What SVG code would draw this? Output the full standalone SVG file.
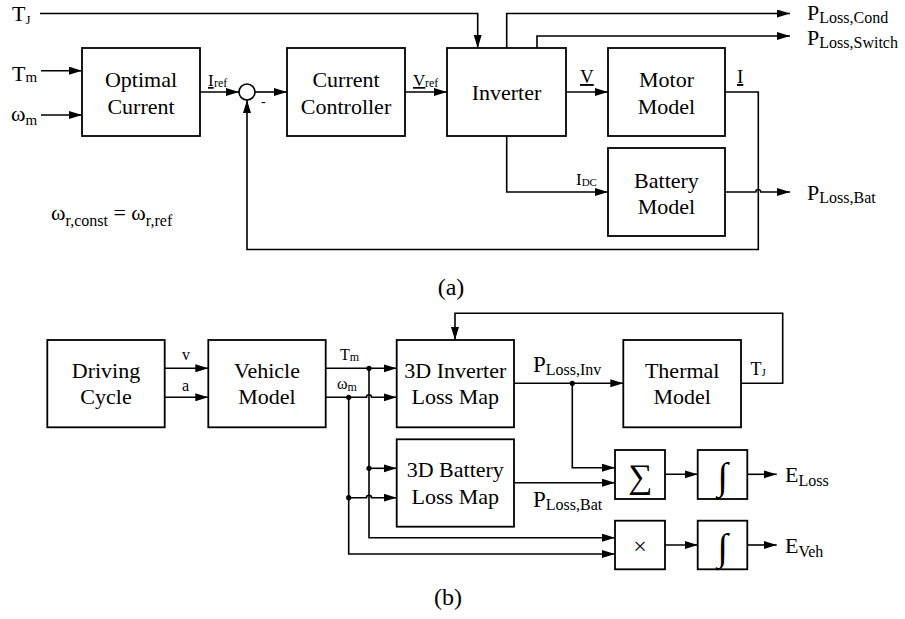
<svg xmlns="http://www.w3.org/2000/svg" width="905" height="619" viewBox="0 0 905 619" font-family="'Liberation Serif', 'Times New Roman', serif">
<style>
text{font-family:'Liberation Serif','Times New Roman',serif;fill:#000}
.b{font-family:'Liberation Serif','Times New Roman',serif;font-size:22px;text-anchor:middle}
.box{fill:#fff;stroke:#000;stroke-width:1.8}
.w{fill:none;stroke:#000;stroke-width:1.6}
.a{marker-end:url(#ah)}
.dot{fill:#000}
</style>
<defs>
<marker id="ah" markerUnits="userSpaceOnUse" markerWidth="14" markerHeight="10" refX="13" refY="4" orient="auto">
<path d="M0,0 L13,4 L0,8 z" fill="#000"/>
</marker>
</defs>

<!-- (a) nodes -->
<g id="optimal-current"><rect class="box" x="82" y="48" width="118" height="88"/><text class="b" x="141" y="87">Optimal</text><text class="b" x="141" y="113.5">Current</text></g>
<g id="sum-a"><circle cx="247" cy="92" r="8" fill="#fff" stroke="#000" stroke-width="1.6"/></g>
<g id="current-controller"><rect class="box" x="287" y="48" width="118" height="88"/><text class="b" x="346" y="87">Current</text><text class="b" x="346" y="113.5">Controller</text></g>
<g id="inverter"><rect class="box" x="447" y="48" width="119" height="88"/><text class="b" x="506.5" y="100">Inverter</text></g>
<g id="motor-model"><rect class="box" x="608" y="48" width="117" height="88"/><text class="b" x="666.5" y="87">Motor</text><text class="b" x="666.5" y="113.5">Model</text></g>
<g id="battery-model"><rect class="box" x="608" y="148" width="117" height="88"/><text class="b" x="666.5" y="187.5">Battery</text><text class="b" x="666.5" y="213.5">Model</text></g>

<!-- (b) nodes -->
<g id="driving-cycle"><rect class="box" x="47.3" y="340" width="117.4" height="87.3"/><text class="b" x="106" y="377.5">Driving</text><text class="b" x="106" y="404">Cycle</text></g>
<g id="vehicle-model"><rect class="box" x="208.3" y="340" width="117.4" height="87.3"/><text class="b" x="267" y="377.5">Vehicle</text><text class="b" x="267" y="404">Model</text></g>
<g id="inverter-loss-map"><rect class="box" x="396.7" y="340" width="117.3" height="87.3"/><text class="b" x="455.3" y="377.5">3D Inverter</text><text class="b" x="455.3" y="404">Loss Map</text></g>
<g id="battery-loss-map"><rect class="box" x="396.7" y="439.3" width="117.3" height="87.4"/><text class="b" x="455.3" y="477">3D Battery</text><text class="b" x="455.3" y="503.5">Loss Map</text></g>
<g id="thermal-model"><rect class="box" x="623.3" y="340" width="117.7" height="87.3"/><text class="b" x="682.2" y="377.5">Thermal</text><text class="b" x="682.2" y="404">Model</text></g>
<g id="sum-b"><rect class="box" x="615" y="450" width="50" height="49"/><text x="640" y="488" font-size="34" text-anchor="middle">∑</text></g>
<g id="integral-loss"><rect class="box" x="697.7" y="450" width="49.6" height="49"/><text x="722.5" y="489" font-size="38" text-anchor="middle">∫</text></g>
<g id="product"><rect class="box" x="615" y="520.7" width="50" height="48.6"/><text x="640" y="553.5" font-size="24" text-anchor="middle">×</text></g>
<g id="integral-veh"><rect class="box" x="697.7" y="520.7" width="49.6" height="48.6"/><text x="722.5" y="559.5" font-size="38" text-anchor="middle">∫</text></g>

<!-- connectors -->
<g id="connectors">
<path class="w a" d="M40,13.5 H477.7 V48"/>
<path class="w a" d="M41,70.7 H82"/>
<path class="w a" d="M41,115 H82"/>
<path class="w a" d="M200,92 H239"/>
<path class="w a" d="M255,92 H287"/>
<path class="w a" d="M405,92 H447"/>
<path class="w a" d="M566,92 H608"/>
<path class="w a" d="M725,92 H758.3 V249.5 H247 V100"/>
<path class="w a" d="M506.7,48 V13.5 H790"/>
<path class="w a" d="M537,48 V36 H790"/>
<path class="w a" d="M506.7,136 V192 H608"/>
<path class="w a" d="M725,192 H755.8 A2.5,2.5 0 0 1 760.8,192 H790"/>

<path class="w a" d="M164.7,368.3 H208.3"/>
<path class="w a" d="M164.7,397.3 H208.3"/>
<path class="w a" d="M325.7,368.3 H396.7"/>
<path class="w a" d="M325.7,397.3 H366.5 A2.5,2.5 0 0 1 371.5,397.3 H396.7"/>
<path class="w a" d="M369,368.3 V537.7 H615"/>
<path class="w a" d="M369,468.3 H396.7"/>
<path class="w a" d="M348.7,397.3 V554 H615"/>
<path class="w a" d="M348.7,497.7 H366.5 A2.5,2.5 0 0 1 371.5,497.7 H396.7"/>
<path class="w a" d="M741,383.3 H782.7 V313.3 H455 V340"/>
<path class="w a" d="M514,383.3 H623.3"/>
<path class="w a" d="M572.3,383.3 V467.7 H615"/>
<path class="w a" d="M514,482.7 H615"/>
<path class="w a" d="M665,474.3 H697.7"/>
<path class="w a" d="M747.3,474.3 H776.7"/>
<path class="w a" d="M665,545 H697.7"/>
<path class="w a" d="M747.3,545 H776.7"/>
<circle class="dot" cx="369" cy="368.3" r="2.6"/>
<circle class="dot" cx="348.7" cy="397.3" r="2.6"/>
<circle class="dot" cx="369" cy="468.3" r="2.6"/>
<circle class="dot" cx="348.7" cy="497.7" r="2.6"/>
<circle class="dot" cx="572.3" cy="383.3" r="2.6"/>
</g>

<!-- (a) labels -->
<g id="labels-a">
<text x="12" y="21" font-size="22">T<tspan font-size="13" dy="3">J</tspan></text>
<text x="12" y="81" font-size="22">T<tspan font-size="15" dy="1">m</tspan></text>
<text x="11" y="121" font-size="22">ω<tspan font-size="15" dy="4">m</tspan></text>
<text x="208" y="86" font-size="17" text-decoration="underline">I</text><text x="214" y="87" font-size="12">ref</text>
<text x="261" y="106" font-size="14">-</text>
<text x="413" y="86" font-size="17" text-decoration="underline">V</text><text x="425" y="87" font-size="12">ref</text>
<text x="580" y="83" font-size="19" text-decoration="underline">V</text>
<text x="737" y="83" font-size="19" text-decoration="underline">I</text>
<text x="576" y="185" font-size="17">I<tspan font-size="11" dy="1">DC</tspan></text>
<text x="807" y="20" font-size="22">P<tspan font-size="16" dy="3">Loss,Cond</tspan></text>
<text x="807" y="44.5" font-size="22">P<tspan font-size="16" dy="3">Loss,Switch</tspan></text>
<text x="807" y="200" font-size="22">P<tspan font-size="16" dy="3">Loss,Bat</tspan></text>
<text x="51" y="220" font-size="22">ω<tspan font-size="16" dy="6">r,const</tspan><tspan dy="-6"> = ω</tspan><tspan font-size="16" dy="6">r,ref</tspan></text>
<text x="451" y="295" font-size="24" text-anchor="middle">(a)</text>
</g>

<!-- (b) labels -->
<g id="labels-b">
<text x="182" y="360" font-size="16">v</text>
<text x="182" y="391" font-size="16">a</text>
<text x="340" y="360" font-size="16">T<tspan font-size="12" dy="1">m</tspan></text>
<text x="337" y="389" font-size="16">ω<tspan font-size="12" dy="2">m</tspan></text>
<text x="533" y="372" font-size="23">P<tspan font-size="16" dy="3">Loss,Inv</tspan></text>
<text x="533" y="506.5" font-size="23">P<tspan font-size="16" dy="3">Loss,Bat</tspan></text>
<text x="750.5" y="375" font-size="18">T<tspan font-size="11" dy="1">J</tspan></text>
<text x="785" y="482" font-size="22">E<tspan font-size="16" dy="4">Loss</tspan></text>
<text x="785" y="553" font-size="22">E<tspan font-size="16" dy="4">Veh</tspan></text>
<text x="448" y="605" font-size="24" text-anchor="middle">(b)</text>
</g>
</svg>
